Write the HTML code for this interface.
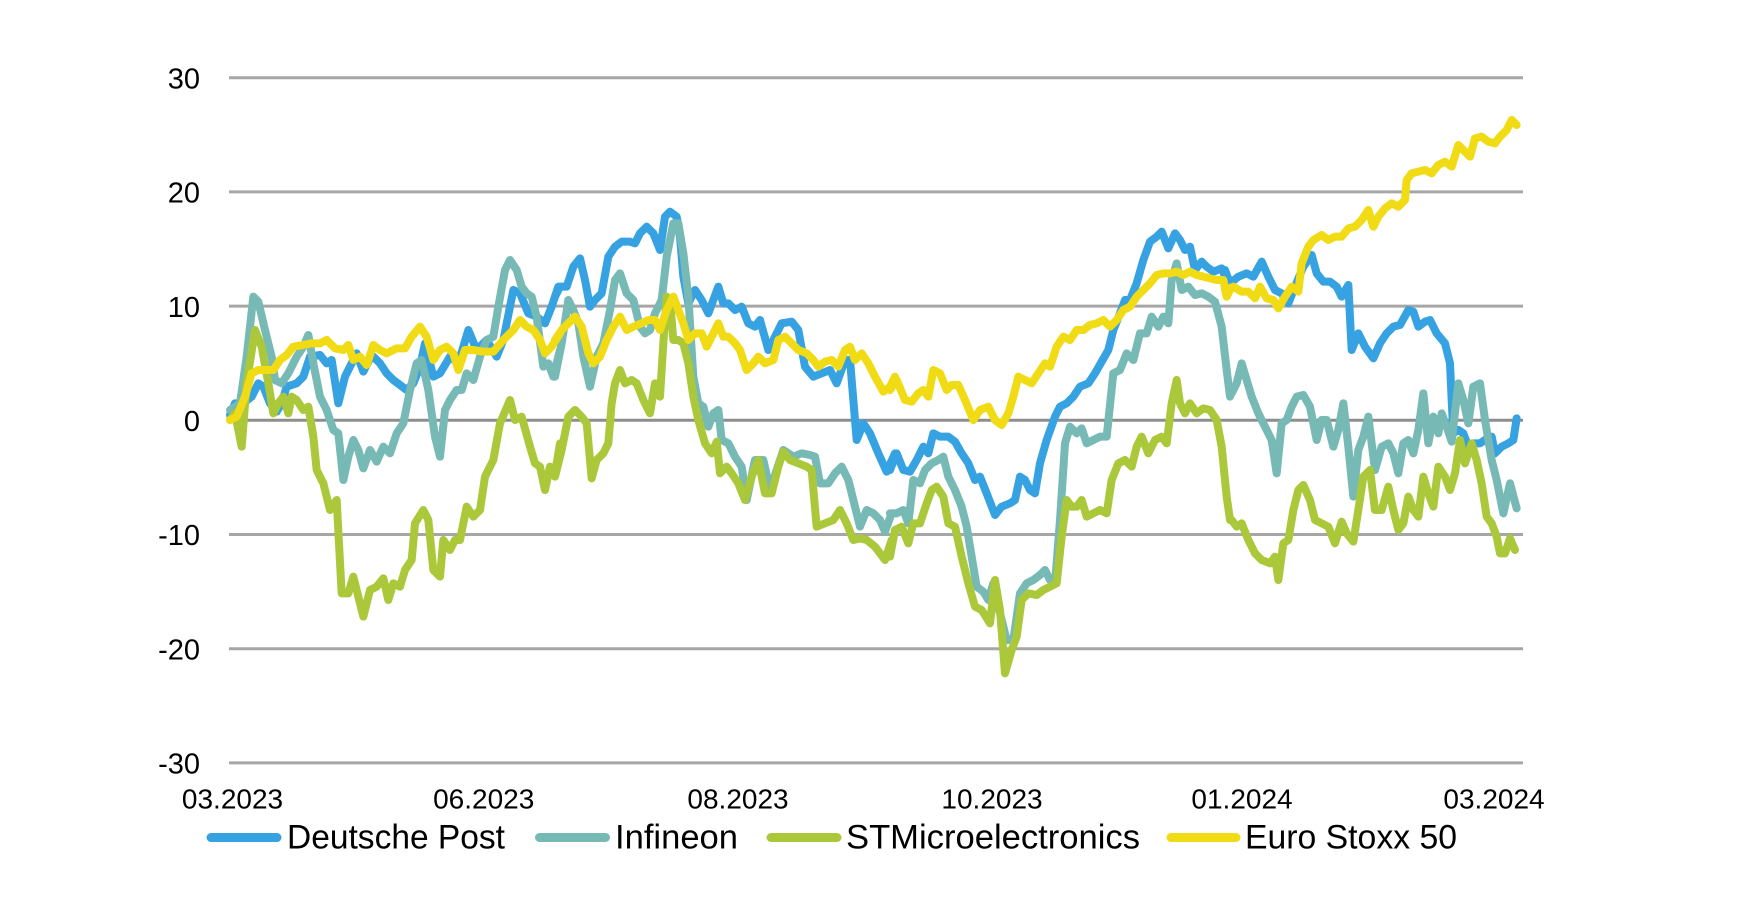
<!DOCTYPE html>
<html><head><meta charset="utf-8"><style>
html,body{margin:0;padding:0;background:#fff;}
svg{display:block;}
text{font-family:"Liberation Sans",Arial,sans-serif;fill:#000;}
</style></head><body>
<svg width="1741" height="913" viewBox="0 0 1741 913" xmlns="http://www.w3.org/2000/svg">
<rect width="1741" height="913" fill="#fff"/>
<g stroke="#a6a6a6" stroke-width="3">
<line x1="229" y1="77.7" x2="1523" y2="77.7"/>
<line x1="229" y1="191.9" x2="1523" y2="191.9"/>
<line x1="229" y1="306.1" x2="1523" y2="306.1"/>
<line x1="229" y1="534.5" x2="1523" y2="534.5"/>
<line x1="229" y1="648.7" x2="1523" y2="648.7"/>
<line x1="229" y1="762.9" x2="1523" y2="762.9"/>
</g>
<line x1="229" y1="420.3" x2="1523" y2="420.3" stroke="#8e8e8e" stroke-width="3"/>
<g font-size="29" text-anchor="end">
<text x="200" y="88.5">30</text>
<text x="200" y="202.5">20</text>
<text x="200" y="316.8">10</text>
<text x="200" y="431">0</text>
<text x="200" y="545">-10</text>
<text x="200" y="659.3">-20</text>
<text x="200" y="773.5">-30</text>
</g>
<g font-size="28" text-anchor="middle">
<text x="232.5" y="808.3">03.2023</text>
<text x="483.7" y="808.3">06.2023</text>
<text x="738" y="808.3">08.2023</text>
<text x="992" y="808.3">10.2023</text>
<text x="1242" y="808.3">01.2024</text>
<text x="1494" y="808.3">03.2024</text>
</g>
<g fill="none" stroke-width="24" stroke-linejoin="round" stroke-linecap="round">
<!-- Deutsche Post -->
<g stroke="#36a2e2">
<polyline transform="translate(220,170) scale(0.33333)" points="30,735 45,700 70,700 95,680 115,640 130,650 150,700 170,725 185,700 200,650 230,640 250,620 270,560 300,555 320,580 335,570 355,700 375,620 395,580 410,550 430,605 455,555 480,580 500,610 520,630 540,645 560,660 580,640 600,590 615,520 640,620 660,610 690,560 715,580 745,480 770,540 800,510 830,560 850,510 880,360 900,370 925,430 950,440 975,460 995,410 1015,350"/>
<polyline transform="translate(555,170) scale(0.33333)" points="0,380 15,350 35,350 55,290 75,265 90,330 105,410 120,390 140,370 160,260 180,230 200,215 225,215 240,220 255,190 275,170 295,190 315,240 330,140 345,125 365,140 375,200 385,320 400,400 420,360 440,390 460,430 475,390 490,350 505,400 520,400 540,420 560,410 580,460 600,470 615,450 640,540 655,510 680,460 710,455 730,480 750,590 775,620 800,610 825,600 845,640 870,570 885,570 905,810 925,760 945,790 970,850 995,905 1020,850"/>
<polyline transform="translate(890,170) scale(0.33333)" points="0,900 20,850 40,900 60,905 80,870 100,830 115,850 130,790 150,800 175,800 195,815 215,850 235,880 255,930 270,920 290,970 315,1035 335,1010 360,1000 375,990 390,920 405,930 420,960 435,970 450,880 470,810 495,740 510,710 530,700 550,680 570,650 595,640 615,610 635,575 655,540 670,480 690,430 705,390 720,390 740,340 760,270 780,215 800,200 815,185 835,235 855,190 870,210 885,240 900,230 915,300 935,275 950,290 970,305 995,295 1010,330"/>
<polyline transform="translate(1225,100) scale(0.33333)" points="0,510 15,550 40,530 65,520 85,530 110,485 130,530 150,570 170,580 190,610 210,560 235,500 260,465 275,520 295,545 315,545 335,560 350,590 370,555 380,750 400,700 420,740 445,775 465,730 485,700 505,680 525,675 550,630 565,635 580,680 600,665 615,660 635,700 660,730 675,790 680,900 685,1000 700,990 715,1000 730,1040 745,1030 765,1030 780,1020 800,1010 810,1060 830,1040 850,1030 865,1020 875,955"/>
</g>
<!-- Infineon -->
<g stroke="#76b9b5">
<polyline transform="translate(220,170) scale(0.33333)" points="30,720 60,700 80,560 100,380 115,395 135,480 155,560 165,630 185,640 205,610 230,560 250,530 265,495 280,580 300,680 320,720 340,780 355,790 370,930 385,860 400,810 415,840 430,895 450,840 470,875 490,830 510,850 530,790 550,760 570,660 590,580 605,570 625,660 645,800 660,860 675,720 690,690 710,660 725,660 740,610 760,630 780,560 800,510 820,500 835,410 855,300 870,270 890,300 905,350 920,370 935,380 950,440 970,590 985,580 1000,620 1020,540"/>
<polyline transform="translate(555,170) scale(0.33333)" points="0,620 20,520 40,390 55,420 70,460 85,560 105,650 125,560 145,520 165,420 180,330 195,310 215,370 235,390 255,470 270,490 285,480 300,430 320,390 335,260 355,160 370,160 385,250 400,380 415,620 430,700 445,710 460,770 475,730 490,720 500,810 520,820 540,860 560,890 575,990 600,870 625,870 645,960 665,900 685,840 715,860 740,850 765,855 780,860 795,940 820,940 840,910 860,890 880,930 900,1010 915,1070 935,1020 955,1030 975,1050 990,1085 1010,1030"/>
<polyline transform="translate(890,170) scale(0.33333)" points="0,1030 20,1030 40,1020 55,1060 70,930 90,940 105,900 125,880 145,870 160,860 175,920 195,960 215,1010 230,1070 245,1160 260,1250 280,1265 295,1290 310,1240 330,1330 350,1410 370,1410 390,1270 410,1240 430,1230 450,1215 465,1200 480,1230 495,1240 510,1050 525,820 540,770 560,790 575,775 590,820 610,810 630,800 650,800 670,610 690,600 710,550 730,570 750,490 770,490 785,440 805,470 820,440 835,460 845,330 860,280 875,360 895,350 915,375 935,370 955,380 975,395 995,470 1010,600 1020,680"/>
<polyline transform="translate(1225,100) scale(0.33333)" points="20,880 35,850 50,790 65,840 80,890 100,940 120,980 140,1020 155,1120 170,970 185,960 200,920 215,890 235,885 255,920 275,1020 290,960 305,960 325,1040 340,990 355,910 370,1040 385,1190 400,1050 415,1010 430,950 450,1110 470,1040 490,1030 505,1060 520,1120 535,1030 550,1020 565,1060 580,990 595,880 610,1030 625,950 640,1000 650,940 665,980 680,1025 700,850 715,900 730,970 745,860 765,850 780,960 800,1080 815,1140 835,1240 855,1150 875,1225"/>
</g>
<!-- STMicroelectronics -->
<g stroke="#abc83b">
<polyline transform="translate(220,170) scale(0.33333)" points="30,750 45,730 65,830 80,640 105,480 125,530 145,640 160,730 175,700 190,680 205,730 215,680 230,690 250,720 265,710 280,800 290,900 310,940 330,1020 350,990 365,1270 385,1270 400,1220 415,1280 430,1340 450,1260 470,1250 490,1225 505,1290 520,1240 540,1250 555,1200 575,1170 585,1060 610,1020 625,1050 640,1200 660,1220 670,1110 690,1140 705,1110 720,1110 740,1010 760,1040 780,1020 795,920 820,870 840,760 870,690 885,750 905,740 930,830 945,880 960,890 975,960 990,890 1005,910 1020,820"/>
<polyline transform="translate(555,170) scale(0.33333)" points="0,920 20,840 40,740 60,720 80,740 95,760 110,925 125,870 145,850 160,820 170,700 180,640 195,600 210,640 230,630 245,640 265,690 285,730 300,640 315,680 325,520 335,380 345,390 355,510 370,510 385,520 400,580 415,680 430,750 450,820 470,850 485,815 495,910 515,890 530,910 550,940 570,990 590,920 610,870 630,970 650,970 670,890 685,845 705,870 730,880 755,890 770,900 785,1070 810,1060 835,1050 855,1020 875,1060 895,1110 915,1105 935,1110 960,1130 975,1150 990,1170 1010,1110"/>
<polyline transform="translate(890,170) scale(0.33333)" points="0,1160 15,1080 35,1070 55,1120 70,1060 90,1060 110,1000 125,960 140,950 160,980 175,1060 195,1070 215,1160 235,1240 255,1310 275,1320 300,1360 315,1230 330,1320 345,1510 365,1440 380,1400 395,1290 415,1270 440,1275 460,1260 480,1250 500,1240 515,1100 530,990 545,1010 560,1010 575,990 590,1040 610,1030 630,1020 650,1030 665,930 685,880 705,870 725,890 740,830 755,800 775,850 795,810 815,800 830,820 845,700 860,630 870,700 885,730 900,700 920,730 940,715 960,720 980,750 995,830 1010,980 1020,1050"/>
<polyline transform="translate(1225,100) scale(0.33333)" points="20,1260 35,1280 50,1270 70,1320 90,1360 110,1380 135,1390 150,1370 160,1440 175,1330 190,1320 205,1230 220,1170 235,1155 255,1200 270,1260 290,1270 310,1280 330,1330 350,1265 365,1300 385,1325 400,1230 415,1130 435,1110 450,1230 470,1230 490,1160 505,1230 520,1290 535,1270 550,1190 565,1230 580,1250 595,1130 610,1180 625,1220 640,1100 660,1130 675,1170 690,1120 705,1020 720,1090 740,1030 755,1080 770,1150 785,1250 800,1270 815,1310 825,1360 840,1360 855,1315 870,1350"/>
</g>
<!-- Euro Stoxx 50 -->
<g stroke="#f0db15">
<polyline transform="translate(220,170) scale(0.33333)" points="30,750 50,740 75,680 95,610 115,600 140,600 160,600 180,570 200,555 220,530 250,525 275,520 300,520 320,510 345,535 370,540 385,525 400,570 420,560 440,585 460,525 480,540 500,550 530,535 555,535 575,500 600,470 620,500 640,570 660,540 680,530 700,550 715,600 735,540 760,540 790,545 820,545 850,510 880,480 900,450 920,470 940,480 960,510 975,550 995,530 1020,490"/>
<polyline transform="translate(555,170) scale(0.33333)" points="0,510 20,480 40,460 60,440 80,470 100,550 115,580 135,560 155,510 175,470 195,440 215,480 235,470 260,460 280,450 300,450 315,480 335,420 355,380 370,420 385,460 400,510 420,490 440,490 455,530 470,500 490,460 505,500 520,500 540,520 555,540 575,600 595,580 610,560 630,580 655,570 670,510 690,500 710,520 730,540 755,550 775,570 790,590 810,575 830,570 850,590 870,540 885,530 900,570 920,550 940,580 960,620 985,665 1005,650 1020,620"/>
<polyline transform="translate(890,170) scale(0.33333)" points="0,660 20,630 45,690 65,695 85,670 100,660 115,680 130,600 150,610 170,660 185,645 205,645 225,690 250,750 270,720 295,710 315,750 335,765 355,730 370,680 385,620 405,630 425,640 445,610 465,580 480,590 500,530 520,500 540,510 560,480 580,480 600,465 620,460 640,450 660,470 680,450 700,420 720,410 740,380 760,360 780,340 800,315 820,310 840,310 860,305 880,315 900,305 920,315 940,320 960,325 980,330 1000,330 1010,380 1020,360"/>
<polyline transform="translate(1225,100) scale(0.33333)" points="0,570 25,560 50,575 70,575 90,595 105,560 125,595 145,600 160,625 180,590 200,560 220,575 230,490 250,440 265,420 290,405 310,420 330,410 350,410 370,385 390,380 410,360 430,330 445,380 460,350 480,325 500,310 520,320 540,300 545,240 560,220 580,215 600,210 620,220 640,195 660,185 680,200 700,135 715,150 735,170 750,115 770,110 790,125 810,130 825,110 845,90 860,60 875,75"/>
</g>
</g>
<!-- Legend -->
<g stroke-width="9" stroke-linecap="round">
<line x1="211" y1="837.5" x2="277" y2="837.5" stroke="#36a2e2"/>
<line x1="539.5" y1="837.5" x2="605.5" y2="837.5" stroke="#76b9b5"/>
<line x1="771" y1="837.5" x2="837" y2="837.5" stroke="#abc83b"/>
<line x1="1171" y1="837.5" x2="1236" y2="837.5" stroke="#f0db15"/>
</g>
<g font-size="34">
<text x="287" y="848.5" textLength="218" lengthAdjust="spacingAndGlyphs">Deutsche Post</text>
<text x="615" y="848.5" textLength="123" lengthAdjust="spacingAndGlyphs">Infineon</text>
<text x="846" y="848.5" textLength="294" lengthAdjust="spacingAndGlyphs">STMicroelectronics</text>
<text x="1245" y="848.5" textLength="212" lengthAdjust="spacingAndGlyphs">Euro Stoxx 50</text>
</g>
</svg>
</body></html>
